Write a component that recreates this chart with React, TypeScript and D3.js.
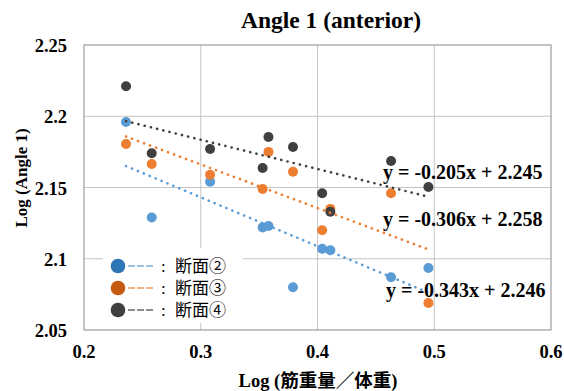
import React from 'react';
import * as d3 from 'd3';

const xValues = [0.236, 0.258, 0.308, 0.353, 0.358, 0.379, 0.404, 0.411, 0.463, 0.495];
const section2 = [2.196, 2.129, 2.154, 2.122, 2.123, 2.080, 2.107, 2.106, 2.087, 2.0935];
const section3 = [2.1805, 2.1665, 2.159, 2.149, 2.175, 2.161, 2.120, 2.135, 2.146, 2.069];
const section4 = [2.221, 2.174, 2.177, 2.1637, 2.1854, 2.1784, 2.146, 2.133, 2.1686, 2.1504];
const slopes = [-0.343, -0.306, -0.205];
const intercepts = [2.246, 2.258, 2.245];
const equations = ['y = -0.343x + 2.246', 'y = -0.306x + 2.258', 'y = -0.205x + 2.245'];
const legendNames = ['断面②', '断面③', '断面④'];
const xTicks = [0.2, 0.3, 0.4, 0.5, 0.6];
const yTicks = [2.05, 2.1, 2.15, 2.2, 2.25];

const pointColors = ['#5B9BD5', '#ED7D31', '#404040'];
const legendColors = ['#2E75B6', '#C55A11', '#3F3F3F'];
const legendDash = ['#9DC3E6', '#F4B183', '#8C8C8C'];

const SERIF = '"Liberation Serif", "Times New Roman", "Noto Sans CJK JP", serif';

export default function App() {
  const left = 84, right = 551, top = 45, bottom = 330;
  const x = d3.scaleLinear().domain([0.2, 0.6]).range([left, right]);
  const y = d3.scaleLinear().domain([2.05, 2.25]).range([bottom, top]);
  const series = [section2, section3, section4];
  const xMin = d3.min(xValues) as number;
  const xMax = d3.max(xValues) as number;
  const eqPos = [
    { x: 386, y: 290 },
    { x: 383, y: 219 },
    { x: 383, y: 172 },
  ];
  const line = d3.line<[number, number]>().x(d => x(d[0])).y(d => y(d[1]));

  return (
    <svg width={564} height={391} style={{ position: 'absolute', left: 0, top: 0, background: '#fff' }}
      fontFamily={SERIF}>
      <rect x={0} y={0} width={564} height={391} fill="#fff" />
      {/* grid */}
      {xTicks.slice(1, -1).map(t => (
        <line key={'gx' + t} x1={x(t)} x2={x(t)} y1={top} y2={bottom} stroke="#C4C4C4" strokeWidth={1} />
      ))}
      {yTicks.slice(1, -1).map(t => (
        <line key={'gy' + t} x1={left} x2={right} y1={y(t)} y2={y(t)} stroke="#C4C4C4" strokeWidth={1} />
      ))}
      <rect x={left} y={top} width={right - left} height={bottom - top} fill="none" stroke="#898989" strokeWidth={1} />

      {/* tick labels */}
      {yTicks.map(t => (
        <text key={'yl' + t} x={67} y={y(t) + 1} textAnchor="end" dominantBaseline="central"
          fontSize={18.5} fontWeight="bold" fill="#000">{String(t)}</text>
      ))}
      {xTicks.map(t => (
        <text key={'xl' + t} x={x(t)} y={352} textAnchor="middle" dominantBaseline="central"
          fontSize={18.5} fontWeight="bold" fill="#000">{String(t)}</text>
      ))}

      {/* titles */}
      <text x={331} y={28} textAnchor="middle" fontSize={23.5} fontWeight="bold" fill="#000">Angle 1 (anterior)</text>
      <text x={318} y={387} textAnchor="middle" fontSize={18.5} fontWeight="bold" fill="#000">Log (筋重量／体重)</text>
      <text transform={`translate(27, 178) rotate(-90)`} textAnchor="middle" fontSize={17} fontWeight="bold" fill="#000">Log (Angle 1)</text>

      {/* points */}
      {series.map((s, si) => (
        <g key={'s' + si}>
          {s.map((v, i) => (
            <circle key={i} cx={x(xValues[i])} cy={y(v)} r={5} fill={pointColors[si]} />
          ))}
        </g>
      ))}

      {/* trendlines */}
      {slopes.map((m, si) => {
        const pts: [number, number][] = [
          [xMin, m * xMin + intercepts[si]],
          [xMax, m * xMax + intercepts[si]],
        ];
        return (
          <path key={'t' + si} d={line(pts) || ''} fill="none" stroke={pointColors[si]} strokeWidth={2.6}
            strokeDasharray="0.1 6.3" strokeLinecap="round" />
        );
      })}

      {/* equations */}
      {equations.map((e, i) => (
        <text key={'e' + i} x={eqPos[i].x} y={eqPos[i].y} dominantBaseline="central" fontSize={20}
          fontWeight="bold" fill="#000">{e}</text>
      ))}

      {/* legend */}
      <rect x={103} y={248} width={140} height={75} fill="#fff" />
      {legendNames.map((n, i) => {
        const ly = 266 + i * 22;
        return (
          <g key={'lg' + i}>
            <line x1={128} x2={153} y1={ly} y2={ly} stroke={legendDash[i]} strokeWidth={1.8} strokeDasharray="7 2" />
            <circle cx={118} cy={ly} r={7.3} fill={legendColors[i]} />
            <text y={ly} dominantBaseline="central" fontSize={17} fill="#000">
              <tspan x={161}>:</tspan>
              <tspan x={175}>{n}</tspan>
            </text>
          </g>
        );
      })}
    </svg>
  );
}
